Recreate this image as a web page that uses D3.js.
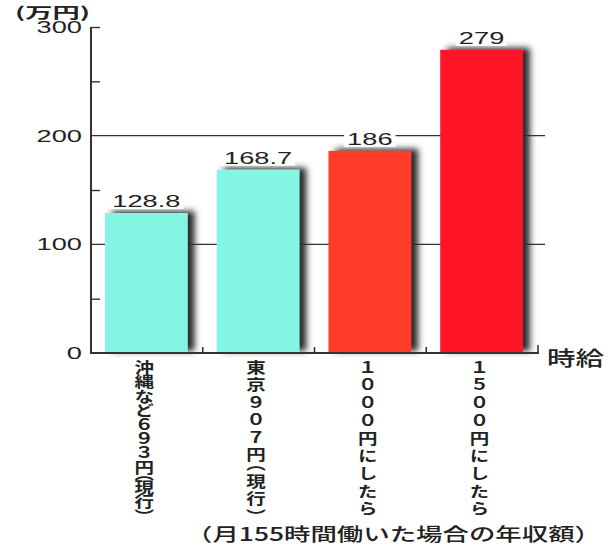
<!DOCTYPE html>
<html>
<head>
<meta charset="utf-8">
<script src="https://cdn.jsdelivr.net/npm/d3@7"></script>
<style>
  html, body { margin: 0; padding: 0; background: #fff; }
  svg { display: block; }
  .vlabel { writing-mode: vertical-rl; text-orientation: mixed; }
  .half { font-feature-settings: "vhal" 1; }
</style>
</head>
<body>
<svg id="chart" width="608" height="550"></svg>
<script>
// 時給別の年収額（月155時間働いた場合）
const categories = ["沖縄など693円(現行)", "東京907円(現行)", "1000円にしたら", "1500円にしたら"];
const values = [128.8, 168.7, 186, 279];
const valueLabels = ["128.8", "168.7", "186", "279"];
const barColors = ["#82f6e2", "#82f6e2", "#ff3b2c", "#ff1426"];
const yTickLabels = [0, 100, 200, 300];
const gridValues = [100, 200];
const minorTicks = [50, 150, 250, 300];
const unitLabel = "(万円)";
const axisTitle = "時給";
const caption = "（月155時間働いた場合の年収額）";

const svg = d3.select("#chart");
const JP = "'Noto Sans CJK JP', sans-serif";
const LAT = "'Liberation Sans', Arial, sans-serif";
const ink = "#222";

const y = d3.scaleLinear().domain([0, 300]).range([353, 27]);
const x = d3.scaleBand().domain(categories).range([91, 538]).padding(0);

const defs = svg.append("defs");
const f = defs.append("filter").attr("id", "shadow")
  .attr("x", "-20%").attr("y", "-20%").attr("width", "150%").attr("height", "140%");
f.append("feDropShadow").attr("dx", 7).attr("dy", -2).attr("stdDeviation", 3)
  .attr("flood-color", "#2a2a2a").attr("flood-opacity", 1);

// horizontally widened text, as set in the printed graphic
function wideText(parent, px, py, str, size, sx, anchor, family, weight) {
  return parent.append("text")
    .attr("transform", `translate(${px},${py}) scale(${sx},1)`)
    .attr("text-anchor", anchor || "middle")
    .attr("font-family", family || LAT)
    .attr("font-size", size)
    .attr("font-weight", weight || "normal")
    .attr("fill", ink)
    .text(str);
}

// gridlines
svg.append("g").selectAll("line").data(gridValues).join("line")
  .attr("x1", 91).attr("x2", 545)
  .attr("y1", d => y(d)).attr("y2", d => y(d))
  .attr("stroke", "#333").attr("stroke-width", 1.4);

// bars
const bw = x.bandwidth();
svg.append("g").selectAll("rect").data(values).join("rect")
  .attr("x", (d, i) => x(categories[i]) + bw * 0.125)
  .attr("width", bw * 0.74)
  .attr("y", d => y(d))
  .attr("height", d => y(0) - y(d))
  .attr("fill", (d, i) => barColors[i])
  .attr("filter", "url(#shadow)");

// value labels with white backing
const vl = svg.append("g");
values.forEach((v, i) => {
  const cx = x(categories[i]) + bw * 0.125 + bw * 0.37;
  const by = y(v) - 6;
  const t = wideText(vl, cx, by, valueLabels[i], 16.5, 1.65, "middle", LAT);
  const w = t.node().getComputedTextLength() * 1.65;
  vl.insert("rect", "text").attr("x", cx - w / 2 - 3).attr("y", by - 14)
    .attr("width", w + 6).attr("height", 16).attr("fill", "#fff");
});

// y axis line and tick marks
const yAxis = svg.append("g").attr("transform", "translate(91,0)")
  .call(d3.axisRight(y).tickValues(minorTicks).tickSize(9).tickFormat(""));
yAxis.select(".domain").attr("d", `M0,${y(300)}V${y(0)}`).attr("stroke", "#333").attr("stroke-width", 2);
yAxis.selectAll(".tick line").attr("stroke", "#333").attr("stroke-width", 1.4);

// y tick labels
const yl = svg.append("g");
yTickLabels.forEach(v => wideText(yl, 82, y(v) + 6, String(v), 16.5, 1.65, "end", LAT));

// x axis with ticks at band edges
const edges = categories.map(c => x(c)).concat([x.range()[1]]);
svg.append("line").attr("x1", 90).attr("x2", 539).attr("y1", y(0)).attr("y2", y(0))
  .attr("stroke", "#333").attr("stroke-width", 2);
svg.append("g").selectAll("line").data(edges.slice(1)).join("line")
  .attr("x1", d => d).attr("x2", d => d)
  .attr("y1", y(0)).attr("y2", (d, i) => y(0) - (i === edges.length - 2 ? 8 : 6))
  .attr("stroke", "#333").attr("stroke-width", 1.6);

// vertical category labels (full-width forms, half-height brackets)
function toFullWidth(ch) {
  if ((ch >= "0" && ch <= "9") || ch === "(" || ch === ")")
    return String.fromCharCode(ch.charCodeAt(0) + 0xFEE0);
  return ch;
}
const cl = svg.append("g");
categories.forEach(c => {
  const cx = x(c) + bw * 0.125 + bw * 0.37 - 2;
  const t = cl.append("text")
    .attr("class", "vlabel")
    .attr("transform", `translate(${cx},360) scale(1.3,1)`)
    .attr("x", 0).attr("y", 0)
    .attr("font-family", JP).attr("font-size", 15).attr("font-weight", 700)
    .attr("fill", ink)
    .attr("textLength", 156).attr("lengthAdjust", "spacing");
  t.selectAll("tspan").data(Array.from(c)).join("tspan")
    .attr("class", ch => (ch === "(" || ch === ")") ? "half" : null)
    .text(toFullWidth);
});

// unit, axis title, caption
svg.append("text").attr("x", 15).attr("y", 17.5)
  .attr("font-family", JP).attr("font-size", 15).attr("font-weight", 700).attr("fill", ink)
  .attr("textLength", 75).attr("lengthAdjust", "spacingAndGlyphs").text(unitLabel);
svg.append("text").attr("x", 547).attr("y", 366)
  .attr("font-family", JP).attr("font-size", 20).attr("font-weight", 500).attr("fill", ink)
  .attr("textLength", 57).attr("lengthAdjust", "spacingAndGlyphs").text(axisTitle);
svg.append("text").attr("x", 186).attr("y", 541)
  .attr("font-family", JP).attr("font-size", 18).attr("font-weight", 500).attr("fill", ink)
  .attr("textLength", 415).attr("lengthAdjust", "spacingAndGlyphs").text(caption);
</script>
</body>
</html>
